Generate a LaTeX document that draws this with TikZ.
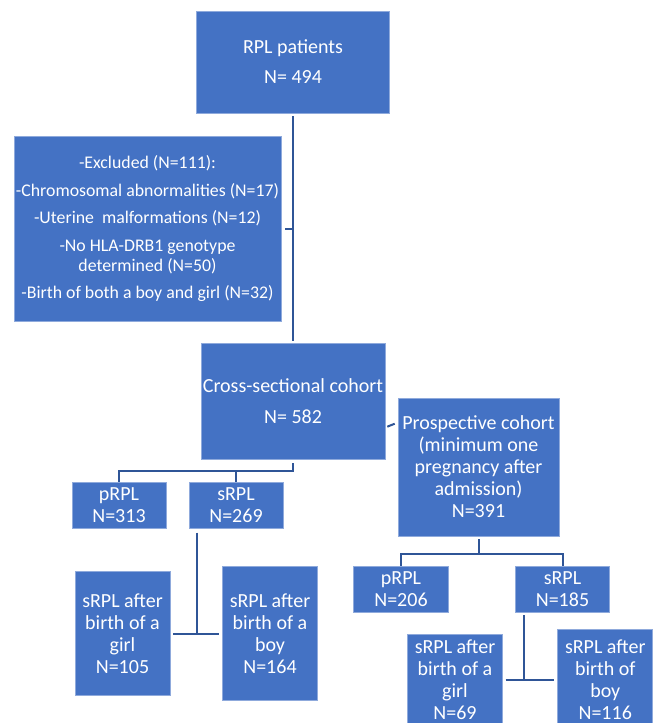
\documentclass[tikz,border=0pt]{standalone}
\usepackage{fontspec}
\setmainfont{Carlito}
\usetikzlibrary{calc}
\definecolor{boxfill}{HTML}{4472C4}
\definecolor{boxedge}{HTML}{8FAADC}
\definecolor{linkc}{HTML}{2F5597}
\begin{document}
\begin{tikzpicture}[x=1pt,y=-1pt,
  box/.style={draw=boxedge, line width=0.6pt, fill=boxfill, text=white, inner sep=0pt,
    align=center, font=\fontsize{20}{22}\selectfont},
  smallbox/.style={box, font=\fontsize{17.8}{20}\selectfont},
  link/.style={draw=linkc, line width=2pt}]
\clip (0,0) rectangle (659,723);
\fill[white] (0,0) rectangle (659,723);
% boxes
\node[box, minimum width=193pt, minimum height=102pt] (top) at (293,62) {RPL patients\\[8pt]N= 494};
\node[smallbox, minimum width=267pt, minimum height=185pt] (excl) at (147.5,228.5)
  {-Excluded (N=111):\\[8pt]-Chromosomal abnormalities (N=17)\\[7pt]-Uterine\ \ malformations (N=12)\\[8pt]-No HLA-DRB1 genotype\\determined (N=50)\\[7pt]-Birth of both a boy and girl (N=32)};
\node[box, minimum width=184pt, minimum height=116pt] (cross) at (293,401) {Cross-sectional cohort\\[9pt]N= 582};
\node[box, minimum width=161pt, minimum height=138pt] (prosp) at (478.5,467) {Prospective cohort\\(minimum one\\pregnancy after\\admission)\\N=391};
\node[box, minimum width=94pt, minimum height=45.5pt] (p1) at (119,505.5) {pRPL\\N=313};
\node[box, minimum width=94pt, minimum height=45.5pt] (s1) at (236,505.5) {sRPL\\N=269};
\node[box, minimum width=95pt, minimum height=124pt] (girl1) at (122.5,633.5) {sRPL after\\birth of a\\girl\\N=105};
\node[box, minimum width=94.5pt, minimum height=134.5pt] (boy1) at (270,633.5) {sRPL after\\birth of a\\boy\\N=164};
\node[box, minimum width=94.5pt, minimum height=45.7pt] (p2) at (401,589) {pRPL\\N=206};
\node[box, minimum width=94.5pt, minimum height=45.7pt] (s2) at (562.5,589) {sRPL\\N=185};
\node[box, minimum width=94.5pt, minimum height=92pt] (girl2) at (455,680) {sRPL after\\birth of a\\girl\\N=69};
\node[box, minimum width=95pt, minimum height=101pt] (boy2) at (605.25,680) {sRPL after\\birth of\\boy\\N=116};
% connectors
\draw[link] ([yshift=-3pt]top.south) -- ([yshift=2pt]cross.north);
\draw[link] ([xshift=4pt]excl.east) -- (excl.east -| top.south);
\draw[link] ($(cross.north east)+(2,84)$) -- ($(prosp.north west)+(-3,26)$);
\coordinate (b1) at (293,471);
\draw[link] ([yshift=-4pt]cross.south) -- (b1) -| (p1.north);
\draw[link] (b1 -| s1.north) -- (s1.north);
\coordinate (s1v) at ([xshift=8pt]s1.south west);
\draw[link, shorten <=4pt] (s1v) -- (s1v |- girl1.east);
\draw[link, shorten <=3pt, shorten >=3pt] (girl1.east) -- (boy1.west);
\coordinate (b2) at (478.5,554);
\draw[link] ([yshift=-3pt]prosp.south) -- (b2) -| (p2.north);
\draw[link] (b2) -| (s2.north);
\coordinate (s2v) at ([xshift=9pt]s2.south west);
\draw[link, shorten <=3pt] (s2v) -- (s2v |- girl2.east);
\draw[link, shorten <=3pt, shorten >=3pt] (girl2.east) -- (boy2.west);
\end{tikzpicture}
\end{document}
